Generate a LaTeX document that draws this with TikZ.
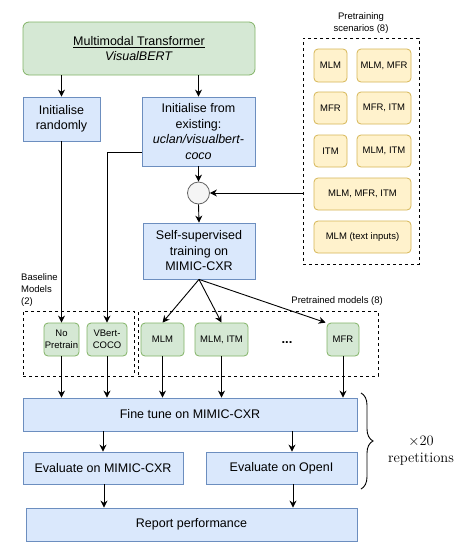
\documentclass[tikz,border=0pt]{standalone}
\usepackage{fontspec}
\newfontfamily\arial{Liberation Sans}
\usetikzlibrary{arrows.meta,decorations.pathreplacing,calc}
\definecolor{bfill}{HTML}{DAE8FC}
\definecolor{bdraw}{HTML}{6C8EBF}
\definecolor{gfill}{HTML}{D5E8D4}
\definecolor{gdraw}{HTML}{82B366}
\definecolor{yfill}{HTML}{FFF2CC}
\definecolor{ydraw}{HTML}{D6B656}
\definecolor{cfill}{HTML}{F5F5F5}
\definecolor{cdraw}{HTML}{666666}
\tikzset{
  bigf/.style={font=\arial\fontsize{12.5}{15.5}\selectfont},
  smallf/.style={font=\arial\fontsize{9.5}{12}\selectfont},
  bluebox/.style={draw=bdraw,fill=bfill,line width=0.8pt,inner sep=0pt,align=center,bigf},
  greenbig/.style={draw=gdraw,fill=gfill,line width=0.8pt,inner sep=0pt,align=center,rounded corners=6pt,bigf},
  greensmall/.style={draw=gdraw,fill=gfill,line width=0.8pt,inner sep=0pt,align=center,rounded corners=4pt,smallf},
  yellowbox/.style={draw=ydraw,fill=yfill,line width=0.8pt,inner sep=0pt,align=center,rounded corners=4pt,smallf},
  dashbox/.style={draw=black,dashed,line width=0.8pt,inner sep=0pt},
  arr/.style={-{Stealth[length=7pt,width=7pt]},line width=0.9pt},
  plain/.style={line width=0.9pt},
}
\begin{document}
\begin{tikzpicture}[x=1pt,y=-1pt]
\useasboundingbox[fill=white] (0,0) rectangle (463,550);
% top
\node[greenbig,minimum width=232pt,minimum height=53pt] (top) at (139,48.5)
  {\underline{Multimodal Transformer}\\\textit{VisualBERT}};
\node[bluebox,minimum width=77pt,minimum height=44pt] (initr) at (61.5,119) {Initialise\\randomly};
\node[bluebox,minimum width=113pt,minimum height=69pt] (inite) at (198.5,131.5)
  {Initialise from\\existing:\\\textit{uclan/visualbert-}\\\textit{coco}};
\node[circle,draw=cdraw,fill=cfill,line width=0.8pt,minimum size=22pt,inner sep=0pt] (circ) at (198.5,193) {};
\node[bluebox,minimum width=112pt,minimum height=56pt] (ssl) at (199,251) {Self-supervised\\training on\\MIMIC-CXR};
% pretraining scenarios
\node[dashbox,minimum width=116pt,minimum height=226pt] (prebox) at (361,151) {};
\node[smallf,align=center,anchor=south,inner sep=0pt] (pretitle) at (361,34) {Pretraining\\scenarios (8)};
\node[yellowbox,minimum width=33pt,minimum height=33pt] (y1) at (330.5,65.5) {MLM};
\node[yellowbox,minimum width=54pt,minimum height=33pt] (y2) at (384,65.5) {MLM, MFR};
\node[yellowbox,minimum width=33pt,minimum height=32pt] (y3) at (330.5,108) {MFR};
\node[yellowbox,minimum width=54pt,minimum height=32pt] (y4) at (384,108) {MFR, ITM};
\node[yellowbox,minimum width=33pt,minimum height=32pt] (y5) at (330.5,151) {ITM};
\node[yellowbox,minimum width=54pt,minimum height=32pt] (y6) at (384,151) {MLM, ITM};
\node[yellowbox,minimum width=97pt,minimum height=32pt] (y7) at (362.5,194) {MLM, MFR, ITM};
\node[yellowbox,minimum width=97pt,minimum height=32pt] (y8) at (362.5,237) {MLM (text inputs)};
% baseline / pretrained
\node[smallf,align=left,anchor=west,inner sep=0pt] (baselbl) at (21,290) {Baseline\\Models\\(2)};
\node[dashbox,minimum width=111pt,minimum height=65pt] (basebox) at (78.5,343.5) {};
\node[dashbox,minimum width=240pt,minimum height=65pt] (ptbox) at (258,343.5) {};
\node[smallf,anchor=south east,inner sep=0pt] (ptlbl) at (383,306) {Pretrained models (8)};
\node[greensmall,minimum width=35pt,minimum height=33pt] (nop) at (61.5,339.5) {No\\Pretrain};
\node[greensmall,minimum width=40pt,minimum height=33pt] (vb) at (107,339.5) {VBert-\\COCO};
\node[greensmall,minimum width=43pt,minimum height=33pt] (mlm) at (162.5,339.5) {MLM};
\node[greensmall,minimum width=53pt,minimum height=33pt] (mlmitm) at (221.5,339.5) {MLM, ITM};
\node[font=\arial\bfseries\fontsize{13}{15}\selectfont,inner sep=0pt] (dots) at (287,343) {...};
\node[greensmall,minimum width=32pt,minimum height=33pt] (mfr) at (343,339.5) {MFR};
% lower
\node[bluebox,minimum width=334pt,minimum height=33pt] (fine) at (190,414.5) {Fine tune on MIMIC-CXR};
\node[bluebox,minimum width=160pt,minimum height=32pt] (evm) at (103,468) {Evaluate on MIMIC-CXR};
\node[bluebox,minimum width=151pt,minimum height=32pt] (evo) at (281.5,468) {Evaluate on OpenI};
\node[bluebox,minimum width=331pt,minimum height=33pt] (rep) at (191.5,524.5) {Report performance};
\coordinate (bt) at (361,393);
\coordinate (bb) at (361,489);
\draw[plain,decorate,decoration={brace,amplitude=12pt}] (bt) -- (bb);
\node[font=\fontsize{14.5}{17}\selectfont,align=center,inner sep=0pt] (reps) at (421,451) {$\times20$\\repetitions};
% connectors
\draw[arr] (initr.north |- top.south) -- (initr.north);
\draw[arr] (inite.north |- top.south) -- (inite.north);
\draw[arr] (initr.south) -- (nop.north);
\draw[arr] ([yshift=-20.5pt]inite.west) -| (vb.north);
\draw[arr] (inite.south) -- (circ.north);
\draw[arr] (circ.east -| prebox.west) -- (circ.east);
\draw[arr] (circ.south) -- (ssl.north);
\draw[arr] (ssl.south) -- (mlm.north);
\draw[arr] (ssl.south) -- (mlmitm.north);
\draw[arr] (ssl.south) -- ([xshift=-1pt]mfr.north west);
\foreach \n in {nop,vb,mlm,mlmitm,mfr}{
  \draw[arr] (\n.south) -- (\n.south |- fine.north);
}
\draw[arr] (evm.north |- fine.south) -- (evm.north);
\draw[arr] ([xshift=10.5pt]evo.north |- fine.south) -- ([xshift=10.5pt]evo.north);
\draw[arr] ([xshift=1pt]evm.south) -- ([xshift=1pt]evm.south |- rep.north);
\draw[arr] ([xshift=11.5pt]evo.south) -- ([xshift=11.5pt]evo.south |- rep.north);
\end{tikzpicture}
\end{document}
